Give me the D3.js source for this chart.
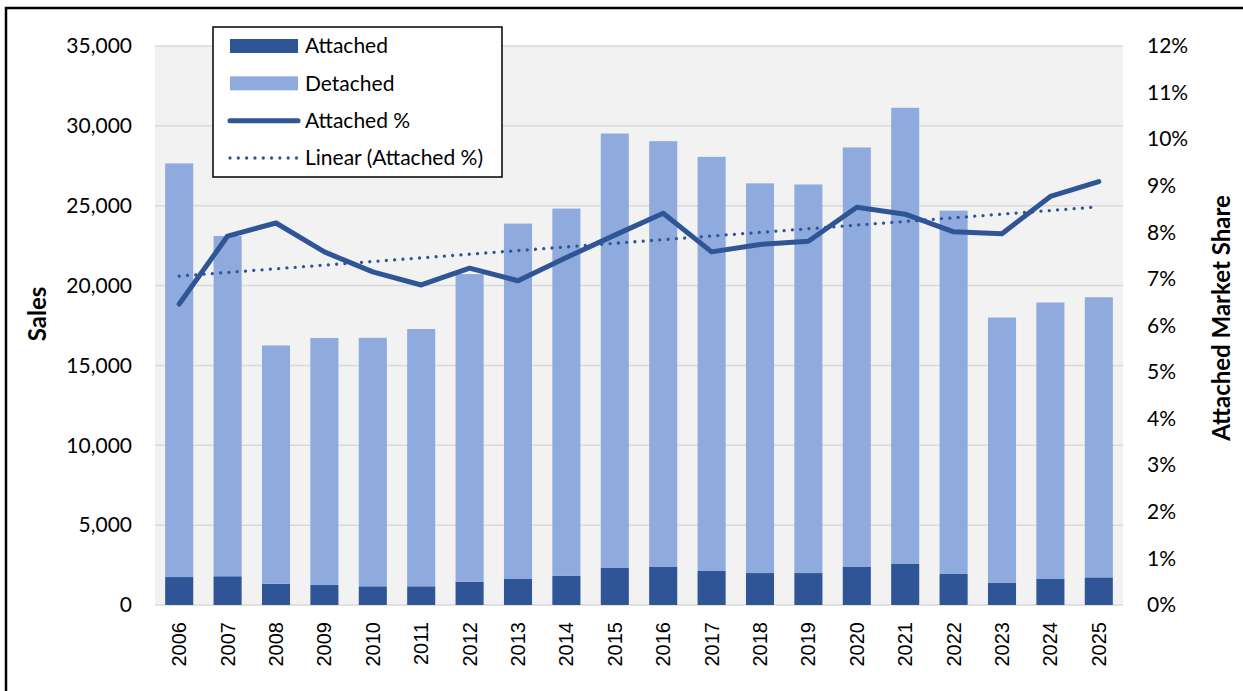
<!DOCTYPE html>
<html>
<head>
<meta charset="utf-8">
<script src="https://cdn.jsdelivr.net/npm/d3@7"></script>
<style>
  body { margin: 0; background: #fff; }
  text { font-family: Lato, "Open Sans", sans-serif; fill: #000; }
</style>
</head>
<body>
<div id="chart"></div>
<script>
const years = ["2006","2007","2008","2009","2010","2011","2012","2013","2014","2015",
               "2016","2017","2018","2019","2020","2021","2022","2023","2024","2025"];
const attached = [1750,1800,1330,1250,1170,1170,1460,1630,1820,2320,
                  2380,2130,2000,2000,2380,2570,1940,1380,1630,1730];
const detached = [25900,21300,14920,15470,15560,16110,19260,22250,23000,27200,
                  26660,25930,24400,24330,26270,28560,22750,16620,17310,17540];
const attachedPct = [6.46,7.92,8.20,7.58,7.15,6.87,7.23,6.96,7.46,7.94,
                     8.41,7.58,7.74,7.81,8.54,8.39,8.01,7.97,8.77,9.09];
const salesTicks = [0,5000,10000,15000,20000,25000,30000,35000];
const pctTicks = [0,1,2,3,4,5,6,7,8,9,10,11,12];

const W = 1243, H = 691;
const plotLeft = 155, plotRight = 1123, plotTop = 46, plotBottom = 605;
const darkBlue = "#2f5597", lightBlue = "#8faadc";

const svg = d3.select("#chart").append("svg")
  .attr("width", W).attr("height", H);

// outer chart frame
svg.append("rect")
  .attr("x", 6).attr("y", 8).attr("width", 1400).attr("height", 900)
  .attr("fill", "none").attr("stroke", "#000").attr("stroke-width", 2.5);

// plot area background
svg.append("rect")
  .attr("x", plotLeft).attr("y", plotTop)
  .attr("width", plotRight - plotLeft).attr("height", plotBottom - plotTop)
  .attr("fill", "#f2f2f2");

const x = d3.scaleBand()
  .domain(years)
  .range([plotLeft, plotRight])
  .paddingInner(0.42)
  .paddingOuter(0.21);

const y = d3.scaleLinear().domain([0, 35000]).range([plotBottom, plotTop]);
const yPct = d3.scaleLinear().domain([0, 12]).range([plotBottom, plotTop]);

// gridlines
svg.append("g")
  .selectAll("line")
  .data(salesTicks)
  .enter().append("line")
  .attr("x1", plotLeft).attr("x2", plotRight)
  .attr("y1", d => y(d)).attr("y2", d => y(d))
  .attr("stroke", "#d9d9d9").attr("stroke-width", 1.5);

// left axis
const leftAxis = svg.append("g")
  .attr("transform", "translate(" + plotLeft + ",0)")
  .call(d3.axisLeft(y).tickValues(salesTicks).tickFormat(d3.format(",")).tickSize(0).tickPadding(23));
leftAxis.select(".domain").remove();
leftAxis.selectAll("text").style("font-family", "Lato").style("font-size", "21px");

// right axis
const rightAxis = svg.append("g")
  .attr("transform", "translate(" + plotRight + ",0)")
  .call(d3.axisRight(yPct).tickValues(pctTicks).tickFormat(d => d + "%").tickSize(0).tickPadding(24));
rightAxis.select(".domain").remove();
rightAxis.selectAll("text").style("font-family", "Lato").style("font-size", "21px");

// stacked bars
const rows = years.map((yr, i) => ({ year: yr, attached: attached[i], detached: detached[i] }));
const stacked = d3.stack().keys(["attached", "detached"])(rows);
const colors = { attached: darkBlue, detached: lightBlue };

svg.append("g")
  .selectAll("g")
  .data(stacked)
  .enter().append("g")
  .attr("fill", d => colors[d.key])
  .selectAll("rect")
  .data(d => d)
  .enter().append("rect")
  .attr("x", d => x(d.data.year))
  .attr("y", d => y(d[1]))
  .attr("width", x.bandwidth())
  .attr("height", d => y(d[0]) - y(d[1]));

// x axis labels
const xAxis = svg.append("g")
  .attr("transform", "translate(0," + plotBottom + ")")
  .call(d3.axisBottom(x).tickSize(0).tickPadding(0));
xAxis.select(".domain").remove();
xAxis.selectAll("text")
  .style("font-family", "'Liberation Sans', Arial, sans-serif")
  .style("font-size", "20px")
  .attr("text-anchor", "end")
  .attr("dy", null)
  .attr("y", 0)
  .attr("transform", "translate(7,17) rotate(-90)");

// trendline (linear regression of attached %)
const n = attachedPct.length;
const meanX = d3.mean(d3.range(n));
const meanY = d3.mean(attachedPct);
const slope = d3.sum(attachedPct, (v, i) => (i - meanX) * (v - meanY)) /
              d3.sum(d3.range(n), i => (i - meanX) * (i - meanX));
const trend = years.map((yr, i) => ({ year: yr, v: meanY + slope * (i - meanX) }));

const cx = d => x(d.year) + x.bandwidth() / 2;

svg.append("path")
  .datum([trend[0], trend[n - 1]])
  .attr("fill", "none")
  .attr("stroke", darkBlue)
  .attr("stroke-width", 3.3)
  .attr("stroke-linecap", "round")
  .attr("stroke-dasharray", "0.01 8.3")
  .attr("d", d3.line().x(cx).y(d => yPct(d.v)));

// attached % line
const pctRows = years.map((yr, i) => ({ year: yr, v: attachedPct[i] }));
svg.append("path")
  .datum(pctRows)
  .attr("fill", "none")
  .attr("stroke", darkBlue)
  .attr("stroke-width", 5)
  .attr("stroke-linejoin", "round")
  .attr("stroke-linecap", "round")
  .attr("d", d3.line().x(cx).y(d => yPct(d.v)));

// axis titles
svg.append("text")
  .attr("transform", "translate(38,314) rotate(-90)")
  .attr("text-anchor", "middle")
  .attr("dy", "0.35em")
  .style("font-size", "24px").style("font-weight", "bold")
  .text("Sales");

svg.append("text")
  .attr("transform", "translate(1222,318) rotate(-90)")
  .attr("text-anchor", "middle")
  .attr("dy", "0.35em")
  .style("font-size", "24px").style("font-weight", "bold")
  .text("Attached Market Share");

// legend
const legend = svg.append("g");
legend.append("rect")
  .attr("x", 213).attr("y", 27).attr("width", 289).attr("height", 150)
  .attr("fill", "#fff").attr("stroke", "#000").attr("stroke-width", 1.5);

const legendItems = [
  { label: "Attached", type: "bar", color: darkBlue },
  { label: "Detached", type: "bar", color: lightBlue },
  { label: "Attached %", type: "line" },
  { label: "Linear (Attached %)", type: "dots" }
];
const ly = d3.scaleLinear().domain([0, 3]).range([46, 158]);

legendItems.forEach((it, i) => {
  const yy = ly(i);
  if (it.type === "bar") {
    legend.append("rect")
      .attr("x", 230).attr("y", yy - 7).attr("width", 68).attr("height", 14)
      .attr("fill", it.color);
  } else if (it.type === "line") {
    legend.append("line")
      .attr("x1", 230).attr("x2", 298).attr("y1", yy).attr("y2", yy)
      .attr("stroke", darkBlue).attr("stroke-width", 5).attr("stroke-linecap", "round");
  } else {
    legend.append("line")
      .attr("x1", 230).attr("x2", 298).attr("y1", yy).attr("y2", yy)
      .attr("stroke", darkBlue).attr("stroke-width", 3.3)
      .attr("stroke-linecap", "round").attr("stroke-dasharray", "0.01 8.3");
  }
  legend.append("text")
    .attr("x", 305).attr("y", yy)
    .attr("dy", "0.35em")
    .style("font-size", "21px")
    .text(it.label);
});
</script>
</body>
</html>
